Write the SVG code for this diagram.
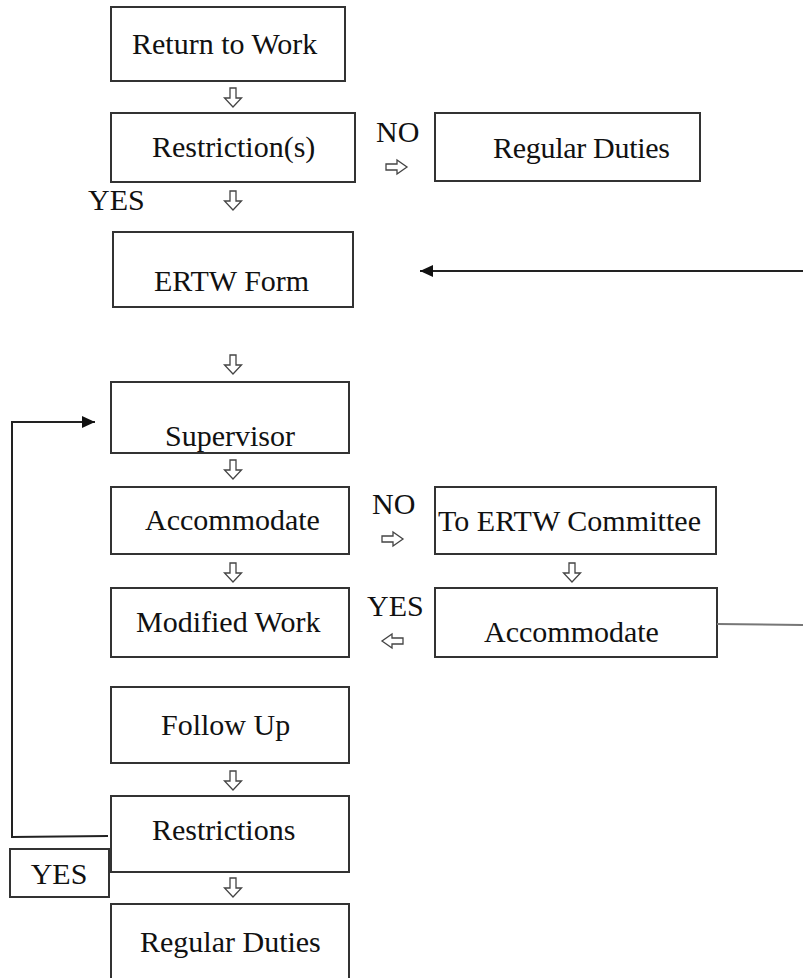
<svg xmlns="http://www.w3.org/2000/svg" width="803" height="978" viewBox="0 0 803 978">
<style>
.box{fill:#fff;stroke:#333;stroke-width:2}
.t{font-family:"Liberation Serif","Times New Roman",serif;font-size:30px;fill:#111}
.ha{fill:#fff;stroke:#444;stroke-width:1.3;stroke-linejoin:miter}
.ln{fill:none;stroke:#222;stroke-width:2}
.gl{fill:none;stroke:#777;stroke-width:2}
</style>
<defs>
<path id="dn" d="M-3,0 H3 V10 H8.5 L0,19 L-8.5,10 H-3 Z"/>
<path id="rt" d="M0,-3 H11 V-7 L21,0 L11,7 V3 H0 Z"/>
<path id="lf" d="M21,-3 H10 V-7 L0,0 L10,7 V3 H21 Z"/>
<marker id="ah" viewBox="0 0 13 12" refX="13" refY="6" markerWidth="13" markerHeight="12" markerUnits="userSpaceOnUse" orient="auto">
<path d="M0,0 L13,6 L0,12 Z" fill="#111"/>
</marker>
</defs>

<g id="n-return"><rect class="box" x="111" y="7" width="234" height="74"/><text class="t" x="132" y="54">Return to Work</text></g>
<g id="n-restriction"><rect class="box" x="111" y="113" width="244" height="69"/><text class="t" x="152" y="157">Restriction(s)</text></g>
<g id="n-regular1"><rect class="box" x="435" y="113" width="265" height="68"/><text class="t" x="493" y="158" textLength="177" lengthAdjust="spacing">Regular Duties</text></g>
<g id="n-ertw"><rect class="box" x="113" y="232" width="240" height="75"/><text class="t" x="154" y="291">ERTW Form</text></g>
<g id="n-supervisor"><rect class="box" x="111" y="382" width="238" height="71"/><text class="t" x="165" y="446">Supervisor</text></g>
<g id="n-accommodate1"><rect class="box" x="111" y="487" width="238" height="67"/><text class="t" x="145" y="530">Accommodate</text></g>
<g id="n-committee"><rect class="box" x="435" y="487" width="281" height="67"/><text class="t" x="438" y="531" textLength="263" lengthAdjust="spacing">To ERTW Committee</text></g>
<g id="n-modified"><rect class="box" x="111" y="588" width="238" height="69"/><text class="t" x="136" y="632">Modified Work</text></g>
<g id="n-accommodate2"><rect class="box" x="435" y="588" width="282" height="69"/><text class="t" x="484" y="642">Accommodate</text></g>
<g id="n-followup"><rect class="box" x="111" y="687" width="238" height="76"/><text class="t" x="161" y="735">Follow Up</text></g>
<g id="n-restrictions"><rect class="box" x="111" y="796" width="238" height="76"/><text class="t" x="152" y="840">Restrictions</text></g>
<g id="n-yes"><rect class="box" x="10" y="849" width="99" height="48"/><text class="t" x="59" y="884" text-anchor="middle">YES</text></g>
<g id="n-regular2"><rect class="box" x="111" y="904" width="238" height="90"/><text class="t" x="140" y="952">Regular Duties</text></g>

<g id="connectors">
<use href="#dn" class="ha" x="233" y="88"/>
<use href="#dn" class="ha" x="233" y="191"/>
<use href="#dn" class="ha" x="233" y="355"/>
<use href="#dn" class="ha" x="233" y="460"/>
<use href="#dn" class="ha" x="233" y="563"/>
<use href="#dn" class="ha" x="572" y="563"/>
<use href="#dn" class="ha" x="233" y="771"/>
<use href="#dn" class="ha" x="233" y="878"/>
<use href="#rt" class="ha" x="386" y="167"/>
<use href="#rt" class="ha" x="382" y="539"/>
<use href="#lf" class="ha" x="382" y="641"/>
<line class="ln" x1="803" y1="271" x2="420" y2="271" marker-end="url(#ah)"/>
<polyline class="ln" points="108,836 12,837 12,422 95,422" marker-end="url(#ah)"/>
<line class="gl" x1="717" y1="624" x2="803" y2="625"/>
<text class="t" x="376" y="142">NO</text>
<text class="t" x="88" y="210">YES</text>
<text class="t" x="372" y="514">NO</text>
<text class="t" x="367" y="616">YES</text>
</g>
</svg>
